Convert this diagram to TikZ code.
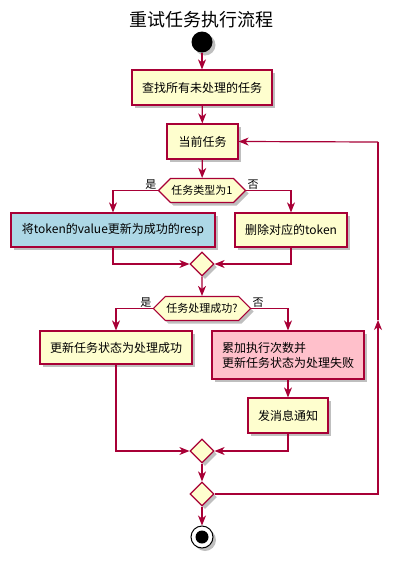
\documentclass[tikz,border=0pt]{standalone}
\usepackage{fontspec}
\setmainfont{Noto Sans CJK SC}
\usetikzlibrary{arrows.meta,shapes.geometric,shapes.symbols,shadows}
\definecolor{umlred}{HTML}{A80036}
\definecolor{umlfill}{HTML}{FEFECE}
\definecolor{umlblue}{HTML}{ADD8E6}
\definecolor{umlpink}{HTML}{FFC0CB}
\tikzset{
    shade/.style={drop shadow={shadow xshift=3pt,shadow yshift=-3pt,opacity=0.25,fill=black}},
    action/.style={draw=umlred,fill=umlfill,line width=1.2pt,rectangle,
        font=\fontsize{12}{15}\selectfont,inner sep=0pt,shade},
    choice/.style={draw=umlred,fill=umlfill,line width=1.2pt,signal,
        signal to=west and east,signal pointer angle=90,inner xsep=1pt,inner ysep=0pt,
        minimum height=24pt,font=\fontsize{11}{13}\selectfont,shade},
    merge/.style={draw=umlred,fill=umlfill,line width=1.2pt,diamond,
        minimum width=24pt,minimum height=24pt,inner sep=0pt,shade},
    flow/.style={draw=umlred,line width=1.2pt,-{Stealth[length=10pt,width=8pt,inset=3pt]}},
    plain/.style={draw=umlred,line width=1.2pt},
    branch/.style={font=\fontsize{11}{13}\selectfont,inner sep=1pt}
}
\begin{document}
\begin{tikzpicture}[x=1pt,y=-1pt]
    \useasboundingbox (0,0) rectangle (404,565);
    %% Title
    \node[font=\fontsize{18}{22}\selectfont] (title) at (201,20) {重试任务执行流程};
    %% Start
    \node[circle,fill=black,minimum size=21pt,inner sep=0pt,shade] (start) at (202,42) {};
    %% Actions
    \node[action,minimum width=140pt,minimum height=35pt] (find) at (202,87.5) {查找所有未处理的任务};
    \node[action,minimum width=71pt,minimum height=35pt] (cur) at (202.5,141.5) {当前任务};
    \node[choice,minimum width=86pt] (type) at (202,190.5) {任务类型为1};
    \node[action,fill=umlblue,minimum width=204pt,minimum height=34pt] (upd) at (113,230) {将token的value更新为成功的resp};
    \node[action,minimum width=112pt,minimum height=34pt] (del) at (291,230) {删除对应的token};
    \node[merge] (m1) at (202,264) {};
    \node[choice,minimum width=95pt] (done) at (202,308.5) {任务处理成功?};
    \node[action,minimum width=152pt,minimum height=33pt] (ok) at (116,347.5) {更新任务状态为处理成功};
    \node[action,fill=umlpink,minimum width=152pt,minimum height=48pt,align=left] (fail) at (288,355)
        {累加执行次数并\\更新任务状态为处理失败};
    \node[action,minimum width=80pt,minimum height=35pt] (notify) at (288,415.5) {发消息通知};
    \node[merge] (m2) at (202,451) {};
    \node[merge] (loop) at (202,494) {};
    %% End
    \node[circle,draw=black,fill=white,line width=1pt,minimum size=22pt,inner sep=0pt,shade] (stop) at (202,537) {};
    \fill (stop.center) circle (6.5pt);
    %% Branch labels
    \node[branch,anchor=south east] at (type.west) {是};
    \node[branch,anchor=south west] at (type.east) {否};
    \node[branch,anchor=south east] at (done.west) {是};
    \node[branch,anchor=south west] at (done.east) {否};
    %% Arrows
    \draw[flow] (start) -- (find);
    \draw[flow] (find) -- (cur);
    \draw[flow] (cur) -- (type);
    \draw[flow] (type.west) -| (upd.north);
    \draw[flow] (type.east) -| (del.north);
    \draw[flow] (upd.south) |- (m1.west);
    \draw[flow] (del.south) |- (m1.east);
    \draw[flow] (m1) -- (done);
    \draw[flow] (done.west) -| (ok.north);
    \draw[flow] (done.east) -| (fail.north);
    \draw[flow] (fail) -- (notify);
    \draw[flow] (ok.south) |- (m2.west);
    \draw[flow] (notify.south) |- (m2.east);
    \draw[flow] (m2) -- (loop);
    \draw[flow] (loop) -- (stop);
    %% Loop back
    \coordinate (loopB) at (378,494);
    \coordinate (loopM) at (378,320);
    \coordinate (loopT) at (378,142);
    \draw[flow] (loop.east) -- (loopB) -- (loopM);
    \draw[plain] (loopM) -- (loopT);
    \draw[flow] (loopT) -- (cur.east);
\end{tikzpicture}
\end{document}
